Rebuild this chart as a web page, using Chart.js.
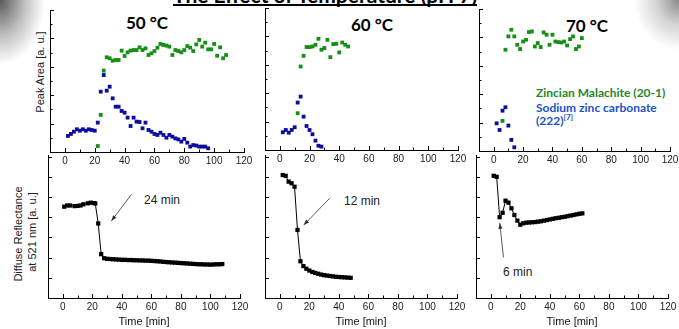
<!DOCTYPE html>
<html>
<head>
<meta charset="utf-8">
<title>The Effect of Temperature (pH 7)</title>
<script src="https://cdn.jsdelivr.net/npm/chart.js@4.4.0/dist/chart.umd.min.js"></script>
<style>
  html, body { margin: 0; padding: 0; }
  body { width: 679px; height: 329px; position: relative; overflow: hidden; background: #fff; font-family: 'Liberation Sans', Arial, sans-serif; }
  canvas { position: absolute; }
  .txt { position: absolute; white-space: nowrap; }
  .shadeL { position: absolute; left: 0; top: 0; width: 70px; height: 80px;
    background: radial-gradient(ellipse 45px 65px at 0 0, rgba(80,80,80,0.95) 0%, rgba(150,150,150,0.6) 55%, rgba(255,255,255,0) 100%); }
  .shadeR { position: absolute; right: 0; top: 0; width: 60px; height: 60px;
    background: radial-gradient(ellipse 45px 50px at 100% 0, rgba(110,110,110,0.8) 0%, rgba(170,170,170,0.5) 50%, rgba(255,255,255,0) 100%); }
  #heading { left: 173px; top: -14px; font: bold 21px Lato, sans-serif; line-height: 18px; border-bottom: 2px solid #000; }
  .temp { font: bold 17px Lato, sans-serif; transform: translate(-50%, -50%); }
  .leg { font: bold 12px Lato, sans-serif; transform: translateY(-50%); }
  .leg sup { font-size: 8px; }
  .ytitle { font-size: 11px; color: #222; transform: translate(-50%, -50%) rotate(-90deg); }
  .note { font-size: 12px; color: #222; transform: translateY(-50%); }
</style>
</head>
<body>
<div class="shadeL"></div>
<div class="shadeR"></div>
<div class="txt" id="heading">The Effect of Temperature (pH 7)</div>

<div class="txt temp" style="left:147px; top:22px;">50 °C</div>
<div class="txt temp" style="left:372px; top:24px;">60 °C</div>
<div class="txt temp" style="left:587px; top:25px;">70 °C</div>

<div class="txt leg" style="left:536px; top:92px; color:#23862a;">Zincian Malachite (20-1)</div>
<div class="txt leg" style="left:536px; top:107px; color:#2052cc;">Sodium zinc carbonate</div>
<div class="txt leg" style="left:536px; top:120px; color:#2052cc;">(222)<sup>[7]</sup></div>

<div class="txt ytitle" style="left:40px; top:72px;">Peak Area [a. u.]</div>
<div class="txt ytitle" style="left:18px; top:234px;">Diffuse Reflectance</div>
<div class="txt ytitle" style="left:32px; top:232px;">at 521 nm [a. u.]</div>

<div class="txt note" style="left:144px; top:200px;">24 min</div>
<div class="txt note" style="left:344px; top:201px;">12 min</div>
<div class="txt note" style="left:503px; top:272px;">6 min</div>

<script>
const timeTicks = [0, 20, 40, 60, 80, 100, 120];

// 50 °C - peak areas
const blue50X = [2,4,6,8,10,12,14,16,18,20,22,24,26,28,30,32,34,36,38,40,42,44,46,48,50,52,54,56,58,60,62,64,66,68,70,72,74,76,78,80,82,84,86,88,90,92,94,96];
const blue50 = [1.13,1.27,1.43,1.60,1.50,1.60,1.50,1.60,1.55,1.50,2.07,4.25,5.42,4.32,4.60,3.78,3.19,3.19,2.89,2.77,2.42,1.83,2.42,2.14,2.11,1.67,2.07,1.55,1.43,1.27,1.20,1.36,1.20,1.01,1.20,1.08,0.96,0.89,0.73,0.92,0.66,0.38,0.49,0.45,0.38,0.38,0.38,0.26];
const green50X = [22,24,26,28,30,32,34,36,38,40,42,44,46,48,50,52,54,56,58,60,62,64,66,68,70,72,74,76,78,80,82,84,86,88,90,92,94,96,98,100,102,104,106,108];
const green50 = [0.42,2.61,5.73,6.67,6.60,6.43,6.48,6.48,7.14,6.76,7.02,7.14,7.18,7.18,7.37,7.18,7.30,6.83,6.95,7.11,7.35,7.61,7.54,7.49,7.42,6.83,7.18,7.11,7.02,7.18,7.46,7.35,7.11,7.58,7.89,7.42,7.70,7.23,7.23,7.61,6.78,7.37,6.60,6.83];

// 60 °C - peak areas
const blue60X = [2,4,6,8,10,12,14,16,18,20,22,24,26,28];
const blue60 = [1.25,1.41,1.22,1.41,1.60,3.34,3.76,2.35,1.69,1.41,1.11,0.66,0.30,0.24];
const green60X = [12,14,16,18,20,22,24,26,28,30,32,34,36,38,40,42,44,46];
const green60 = [2.59,5.88,6.63,7.25,7.25,7.29,7.41,7.83,7.06,7.18,7.76,6.54,7.46,7.48,6.87,7.57,7.41,7.29];

// 70 °C - peak areas
const blue70X = [2,4,6,8,10,12,14];
const blue70 = [1.95,1.48,2.84,3.08,1.79,0.78,0.26];
const green70X = [6,8,10,12,14,16,18,20,22,24,26,28,30,32,34,36,38,40,42,44,46,48,50,52,54,56,58,60];
const green70 = [2.12,7.13,8.07,8.54,8.07,7.48,7.18,7.71,7.83,8.38,8.42,7.36,7.60,7.32,8.35,8.19,7.48,8.19,7.71,7.67,7.64,7.71,7.43,7.88,8.07,7.18,7.36,7.95];

// diffuse reflectance at 521 nm
const refl50X = [1,3,5,8,10,12,14,17,19,21,22,24,26,28,30,32,34,36,38,40,42,44,46,48,50,52,54,56,58,60,62,64,66,68,70,72,74,76,78,80,82,84,86,88,90,92,94,96,98,100,102,104,106,108];
const refl50 = [4.52,4.58,4.58,4.55,4.56,4.58,4.64,4.69,4.72,4.70,4.68,3.69,2.17,1.97,1.94,1.93,1.92,1.91,1.90,1.89,1.89,1.88,1.88,1.87,1.87,1.86,1.86,1.85,1.85,1.84,1.83,1.82,1.81,1.79,1.78,1.77,1.76,1.75,1.74,1.73,1.72,1.71,1.70,1.69,1.68,1.67,1.67,1.66,1.66,1.65,1.66,1.67,1.67,1.68];
const refl60X = [2,4,6,8,10,12,14,16,18,20,22,24,26,28,30,32,34,36,38,40,42,44,46,48];
const refl60 = [6.09,6.05,5.76,5.68,5.51,3.37,1.82,1.58,1.45,1.36,1.29,1.24,1.20,1.16,1.13,1.11,1.09,1.07,1.05,1.04,1.03,1.02,1.01,1.00];
const refl70X = [2,4,6,8,10,12,14,16,18,20,22,24,26,28,30,32,34,36,38,40,42,44,46,48,50,52,54,56,58,60,62];
const refl70 = [6.05,6.00,4.00,4.22,4.82,4.72,4.44,4.11,3.83,3.63,3.70,3.73,3.74,3.75,3.76,3.78,3.80,3.83,3.86,3.89,3.92,3.95,3.97,4.00,4.02,4.05,4.08,4.11,4.14,4.17,4.19];

const GREEN = '#168f16';
const BLUE = '#0d0d9e';
const NARROW = "'Liberation Sans Narrow', 'Liberation Sans', Arial, sans-serif";
const PAD_L = 6, PAD_T = 6, PAD_R = 12;

const pts = (xs, ys) => xs.map((x, i) => ({ x: x, y: ys[i] }));

const scatterSet = (xs, ys, color) => ({
  data: pts(xs, ys),
  pointStyle: 'rect',
  pointRadius: 2.7,
  pointBorderWidth: 0,
  pointBackgroundColor: color,
  borderColor: color,
});

const lineSet = (xs, ys) => ({
  data: pts(xs, ys),
  showLine: true,
  borderColor: '#000',
  borderWidth: 1,
  pointStyle: 'rect',
  pointRadius: 3,
  pointBorderWidth: 0,
  pointBackgroundColor: '#000',
});

// ticks pointing into the plot, like the origin graphs
const inwardTicks = {
  id: 'inwardTicks',
  afterDraw(chart, args, opts) {
    const ctx = chart.ctx;
    const xs = chart.scales.x, ys = chart.scales.y;
    ctx.save();
    ctx.strokeStyle = '#000';
    ctx.lineWidth = 1;
    ctx.beginPath();
    for (let v = 0; v <= 120; v += 10) {
      const px = Math.round(xs.getPixelForValue(v)) + 0.5;
      const len = v % 20 === 0 ? 4 : 2.5;
      ctx.moveTo(px, ys.bottom);
      ctx.lineTo(px, ys.bottom - len);
    }
    for (let v = 1; v <= ys.max; v += 1) {
      const py = Math.round(ys.getPixelForValue(v)) + 0.5;
      const len = v % opts.major === 0 ? 4 : 2.5;
      ctx.moveTo(xs.left, py);
      ctx.lineTo(xs.left + len, py);
    }
    ctx.stroke();
    ctx.restore();
  }
};

const arrows = {
  id: 'arrows',
  afterDatasetsDraw(chart, args, opts) {
    const ctx = chart.ctx;
    const xs = chart.scales.x, ys = chart.scales.y;
    (opts.items || []).forEach(a => {
      const x1 = xs.getPixelForValue(a.from[0]), y1 = ys.getPixelForValue(a.from[1]);
      const x2 = xs.getPixelForValue(a.to[0]), y2 = ys.getPixelForValue(a.to[1]);
      const ang = Math.atan2(y2 - y1, x2 - x1);
      ctx.save();
      ctx.strokeStyle = '#333';
      ctx.fillStyle = '#333';
      ctx.lineWidth = 0.8;
      ctx.beginPath();
      ctx.moveTo(x1, y1);
      ctx.lineTo(x2, y2);
      ctx.stroke();
      ctx.beginPath();
      ctx.moveTo(x2, y2);
      ctx.lineTo(x2 - 6 * Math.cos(ang - 0.35), y2 - 6 * Math.sin(ang - 0.35));
      ctx.lineTo(x2 - 6 * Math.cos(ang + 0.35), y2 - 6 * Math.sin(ang + 0.35));
      ctx.closePath();
      ctx.fill();
      ctx.restore();
    });
  }
};

function makePanel(box, datasets, yMax, bottomRow, arrowItems) {
  const cv = document.createElement('canvas');
  const axisH = bottomRow ? 329 - box.b : 14;
  const w = box.r - box.l + PAD_L + PAD_R;
  const h = box.b - box.t + PAD_T + axisH;
  cv.width = w;
  cv.height = h;
  cv.style.left = (box.l - PAD_L) + 'px';
  cv.style.top = (box.t - PAD_T) + 'px';
  cv.style.width = w + 'px';
  cv.style.height = h + 'px';
  document.body.appendChild(cv);

  return new Chart(cv, {
    type: 'scatter',
    data: { datasets: datasets },
    options: {
      responsive: false,
      animation: false,
      events: [],
      layout: { padding: { left: PAD_L, right: PAD_R, top: PAD_T, bottom: 0 } },
      plugins: {
        legend: { display: false },
        tooltip: { enabled: false },
        inwardTicks: { major: bottomRow ? 1 : 2 },
        arrows: { items: arrowItems || [] },
      },
      scales: {
        x: {
          type: 'linear',
          min: -10,
          max: 120,
          grid: { display: false, drawTicks: false },
          border: { display: true, color: '#000', width: 1 },
          ticks: { font: { family: NARROW, size: 10 }, color: '#222', padding: 3, maxRotation: 0, autoSkip: false },
          afterBuildTicks: (s) => { s.ticks = timeTicks.map(v => ({ value: v })); },
          afterFit: (s) => { s.height = axisH; },
          title: bottomRow
            ? { display: true, text: 'Time [min]', font: { family: NARROW, size: 11 }, color: '#111', padding: 0 }
            : { display: false },
        },
        y: {
          type: 'linear',
          min: 0,
          max: yMax,
          ticks: { display: false },
          grid: { display: false, drawTicks: false },
          border: { display: true, color: '#000', width: 1 },
          afterFit: (s) => { s.width = 0; },
        },
      },
    },
    plugins: [inwardTicks, arrows],
  });
}

// top row: peak areas
makePanel({ l: 50, r: 244, t: 10, b: 152 }, [scatterSet(green50X, green50, GREEN), scatterSet(blue50X, blue50, BLUE)], 10, false);
makePanel({ l: 265, r: 458, t: 8, b: 150 }, [scatterSet(green60X, green60, GREEN), scatterSet(blue60X, blue60, BLUE)], 10, false);
makePanel({ l: 479, r: 670, t: 9, b: 151 }, [scatterSet(green70X, green70, GREEN), scatterSet(blue70X, blue70, BLUE)], 10, false);

// bottom row: diffuse reflectance
makePanel({ l: 48, r: 240, t: 155, b: 298 }, [lineSet(refl50X, refl50)], 7.08, true, [{ from: [46.5, 5.13], to: [32.9, 3.81] }]);
makePanel({ l: 265, r: 457, t: 155, b: 298 }, [lineSet(refl60X, refl60)], 7.08, true, [{ from: [33.8, 4.94], to: [16.2, 3.61] }]);
makePanel({ l: 476, r: 668, t: 155, b: 298 }, [lineSet(refl70X, refl70)], 7.08, true, [{ from: [8.6, 2.01], to: [6.1, 3.71] }]);
</script>
</body>
</html>
